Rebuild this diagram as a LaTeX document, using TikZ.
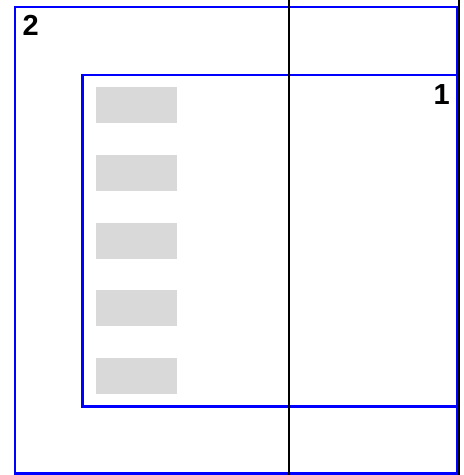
\documentclass[tikz,border=0pt]{standalone}
\usepackage{fontspec}
\setmainfont{Liberation Sans}
\begin{document}
\begin{tikzpicture}[x=1pt,y=-1pt,
  bluebox/.style={draw=blue,line width=2.5pt,inner sep=0pt,outer sep=0pt,anchor=north west},
  graybox/.style={fill=gray!30,draw=none,inner sep=0pt,minimum width=81pt,minimum height=36pt,anchor=north west},
  blackline/.style={draw=black,line width=2.5pt},
  numlabel/.style={font=\bfseries\fontsize{29}{29}\selectfont,inner sep=0pt,anchor=base west}
]
\useasboundingbox (0,0) rectangle (464,475);
\node[bluebox,minimum width=441.8pt,minimum height=466.5pt] (outer) at (15,7) {};
\node[bluebox,minimum width=374.3pt,minimum height=331.5pt] (inner) at (82.5,75) {};
\foreach \i/\y in {1/87,2/155,3/222.5,4/290,5/358}{
  \node[graybox] (g\i) at (96,\y) {};
}
\node[numlabel] (l2) at (22.5,35) {2};
\node[numlabel] (l1) at (433.5,104) {1};
\coordinate (a1) at (289,0);
\coordinate (a2) at (289,475);
\coordinate (b1) at (459,0);
\coordinate (b2) at (459,475);
\draw[blackline] (a1) -- (a2);
\draw[blackline] (b1) -- (b2);
\end{tikzpicture}
\end{document}
